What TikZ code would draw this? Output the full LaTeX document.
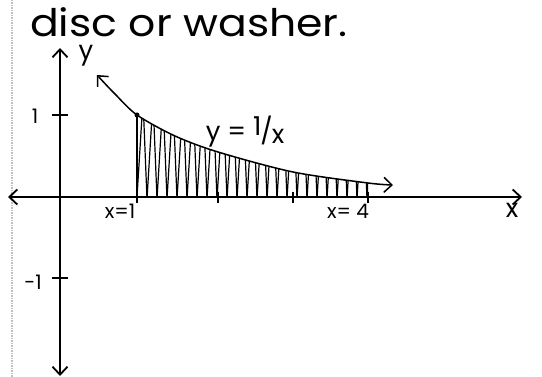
\documentclass[tikz,border=0pt]{standalone}
\usepackage{fontspec}
\setmainfont{Poppins}
\usetikzlibrary{arrows.meta}
\tikzset{
  axis/.style={line width=1.8pt},
  hand/.style={font=\fontsize{20}{20}\selectfont, inner sep=0pt},
  tick/.style={line width=1.4pt},
}
\begin{document}
\begin{tikzpicture}[x=1pt, y=-1pt, >={Straight Barb[length=8pt,width=15pt]}]
    \useasboundingbox (0,0) rectangle (542,377);

    % edge of the page
    \draw[gray!50, densely dotted, line width=1.5pt] (12,0) -- (12,377);

    % heading
    \node[anchor=base west, inner sep=0pt, text depth=0pt, font=\fontsize{38}{38}\selectfont, xscale=1.12] (title) at (30,37) {disc or washer.};

    % axes
    \coordinate (xl) at (8,197);
    \coordinate (xr) at (522,197);
    \coordinate (yt) at (60,48);
    \coordinate (yb) at (60,376);
    \draw[axis, <->] (xl) -- (xr);
    \draw[axis, <->] (yb) -- (yt);
    \node[hand, font=\fontsize{26}{26}\selectfont, anchor=base, text height=1ex, text depth=0.5ex] (lbly) at (86,60) {y};
    \node[hand, font=\fontsize{26}{26}\selectfont] (lblx) at (512,210) {x};

    % ticks
    \draw[tick] (52,115) -- (68,115);
    \draw[tick] (52,278) -- (68,278);
    \foreach \t in {137,218,293,368}
        \draw[tick] (\t,192) -- (\t,203);
    \node[hand] (lblone) at (35,116) {1};
    \node[hand] (lblmone) at (33,282) {-1};
    \node[hand] (lblxone) at (120,211) {x=1};
    \node[hand] (lblxfour) at (348,211) {x= 4};

    % shaded region
    \begin{scope}
        \clip plot[smooth] coordinates {(137,115) (175,136) (218,152) (293,172) (368,183)}
            -- (368,197) -- (137,197) -- cycle;
        \draw[line width=1.2pt] (137,197)
            \foreach \i in {0,...,23} { -- ({143+10*\i},100) -- ({147+10*\i},199) };
    \end{scope}

    % curve y = 1/x
    \draw[line width=1.5pt, <->] plot[smooth] coordinates
        {(97,75) (115,94) (137,115) (175,136) (218,152) (293,172) (368,183) (393,185)};
    \draw[line width=1.6pt] (137,115) -- (137,197);
    \fill (137,115) circle (2.5pt);
    \node[hand, font=\fontsize{26}{26}\selectfont] (lblcurve) at (245,132)
        {y = \raisebox{0.4ex}{1}\kern-1pt/\kern-1pt\raisebox{-0.2ex}{x}};
\end{tikzpicture}
\end{document}
